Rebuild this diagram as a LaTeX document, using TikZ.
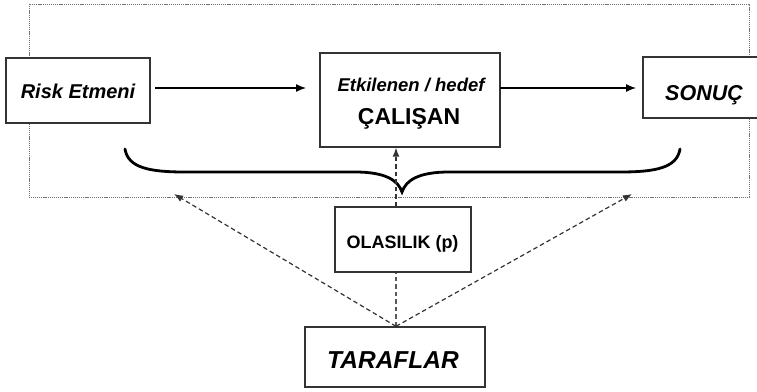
\documentclass[tikz,border=0pt]{standalone}
\usepackage{fontspec}
\setmainfont{Liberation Sans}
\usetikzlibrary{arrows.meta,calc}
\begin{document}
\begin{tikzpicture}[x=1pt,y=-1pt,
  box/.style={draw=black!80,line width=1.4pt,fill=white,inner sep=0pt},
  lbl/.style={inner sep=0pt,anchor=base,font=\bfseries},
  flow/.style={-{Latex[length=10pt,width=8pt]},line width=1.3pt,black},
  dasharrow/.style={-{Latex[length=9pt,width=7pt]},dashed,dash pattern=on 4.5pt off 3pt,line width=1.2pt,black!80},
  dashline/.style={dashed,dash pattern=on 4.5pt off 3pt,line width=1.2pt,black!65},
  frame/.style={draw=black!55,line width=0.9pt,dash pattern=on 1.2pt off 0.9pt},
  brace/.style={line width=2.8pt,black,line cap=round}]
\useasboundingbox (0,0) rectangle (757,391);
% outer dotted frame
\draw[frame] (29,4) rectangle (749,197.5);
% boxes
\node[box,minimum width=144pt,minimum height=65pt] (risk) at (78,90.5) {};
\node[box,minimum width=180pt,minimum height=94pt] (mid) at (410,100) {};
\node[box,minimum width=130pt,minimum height=61pt] (son) at (708,87.5) {};
\node[box,minimum width=136pt,minimum height=65pt] (ol) at (403,239.5) {};
\node[box,minimum width=180pt,minimum height=60pt] (tar) at (395,357) {};
% texts
\node[lbl,font=\bfseries\itshape\fontsize{20}{24}\selectfont] (trisk) at (78,98.3) {Risk Etmeni};
\node[lbl,font=\bfseries\itshape\fontsize{18.5}{22}\selectfont] (tmid1) at (411,91.7) {Etkilenen / hedef};
\node[lbl,font=\bfseries\fontsize{23}{27}\selectfont] (tmid2) at (409,124) {ÇALIŞAN};
\node[lbl,font=\bfseries\itshape\fontsize{21.5}{25}\selectfont] (tson) at (704,100) {SONUÇ};
\node[lbl,font=\bfseries\fontsize{18}{22}\selectfont] (tol) at (402.5,248.3) {OLASILIK (p)};
\node[lbl,font=\bfseries\itshape\fontsize{24.5}{29}\selectfont] (ttar) at (393,368) {TARAFLAR};
% solid arrows
\coordinate (a1) at (155,88);
\coordinate (a2) at (306,88);
\coordinate (b1) at (500,88);
\coordinate (b2) at (636,88);
\draw[flow] (a1) -- (a2);
\draw[flow] (b1) -- (b2);
% brace
\draw[brace] (125,149) .. controls (128,168) and (150,172) .. (185,172)
  -- (355,172) .. controls (385,172) and (398,180) .. (402,192)
  .. controls (406,180) and (419,172) .. (449,172)
  -- (620,172) .. controls (655,172) and (677,168) .. (680,149);
% dashed connectors
\coordinate (vx) at (396,0);
\coordinate (lt) at (174,194);
\coordinate (rt) at (632,194);
\draw[dasharrow] (ol.north -| vx) -- (mid.south -| vx);
\draw[dashline] (tar.north -| vx) -- (ol.south -| vx);
\draw[dasharrow] (tar.north -| vx) -- (lt);
\draw[dasharrow] (tar.north -| vx) -- (rt);
\end{tikzpicture}
\end{document}
